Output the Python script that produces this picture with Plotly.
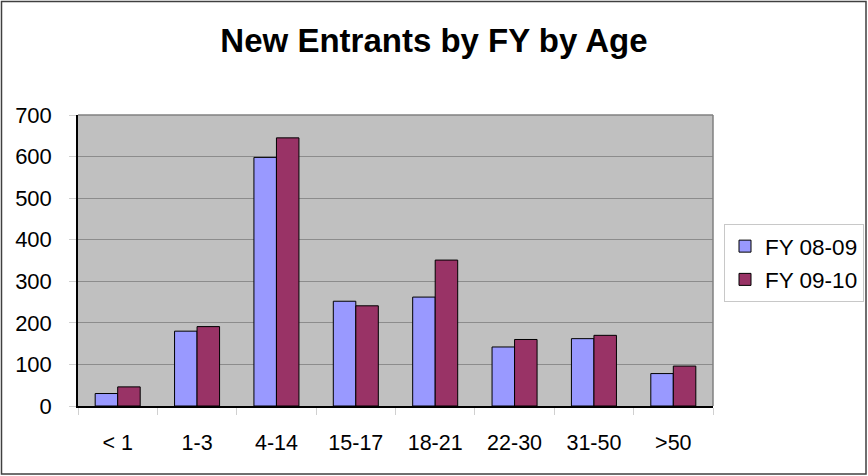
import plotly.graph_objects as go

categories = ["< 1", "1-3", "4-14", "15-17", "18-21", "22-30", "31-50", ">50"]
fy0809 = [30, 180, 598, 252, 262, 142, 162, 78]
fy0910 = [46, 191, 645, 241, 351, 160, 170, 96]
series_names = ["FY 08-09", "FY 09-10"]
y_ticks = [0, 100, 200, 300, 400, 500, 600, 700]

FONT = "Liberation Sans, Arial, sans-serif"
W, H = 868, 476
L, R, T, B = 78, 155, 115, 70
pw, ph = W - L - R, H - T - B

def px_x(p):
    return (p - L) / pw

def px_y(p):
    return (H - B - p) / ph

fig = go.Figure()
fig.add_trace(go.Bar(x=categories, y=fy0809, name=series_names[0],
                     marker=dict(color="#9999FF", line=dict(color="#000000", width=1)),
                     legendgroup="a"))
fig.add_trace(go.Bar(x=categories, y=fy0910, name=series_names[1],
                     marker=dict(color="#993366", line=dict(color="#000000", width=1)),
                     legendgroup="b"))

shapes = [
    # outer border
    dict(type="rect", xref="paper", yref="paper", x0=px_x(1.5), x1=px_x(866), y0=px_y(474), y1=px_y(1.5),
         line=dict(color="#404040", width=1.5), layer="below"),
    # plot area top/right border (gray)
    dict(type="line", xref="paper", yref="paper", x0=0, x1=1, y0=1, y1=1,
         line=dict(color="#808080", width=1.5), layer="above"),
    dict(type="line", xref="paper", yref="paper", x0=1, x1=1, y0=0, y1=1,
         line=dict(color="#808080", width=1.5), layer="above"),
]

fig.update_layout(
    width=W, height=H,
    margin=dict(l=L, r=R, t=T, b=B, pad=0, autoexpand=False),
    paper_bgcolor="#FFFFFF",
    plot_bgcolor="#C0C0C0",
    font=dict(family=FONT, size=22, color="#000000"),
    title=dict(text="<b>New Entrants by FY by Age</b>", x=0.5, xref="container", xanchor="center",
               y=1 - 40 / H, yref="container", yanchor="middle",
               font=dict(family=FONT, size=33, color="#000000")),
    barmode="group",
    bargap=0.433,
    bargroupgap=0,
    showlegend=True,
    legend=dict(x=724 / W, xref="container", xanchor="left",
                y=1 - 224 / H, yref="container", yanchor="top",
                bgcolor="#FFFFFF", bordercolor="#C8C8C8", borderwidth=1,
                font=dict(family=FONT, size=22.5, color="#000000"),
                traceorder="grouped", tracegroupgap=1, itemwidth=30),
    shapes=shapes,
    xaxis=dict(type="category", showline=True, linecolor="#000000", linewidth=1.5,
               ticks="outside", tickson="boundaries", ticklen=7, tickcolor="#D0D0D0",
               ticklabelstandoff=16,
               showgrid=False, tickfont=dict(family=FONT, size=21.5), fixedrange=True),
    yaxis=dict(range=[0, 700], tickvals=y_ticks, showline=True, linecolor="#000000", linewidth=1.5,
               ticks="outside", ticklen=7, tickcolor="#D0D0D0", ticklabelstandoff=13,
               showgrid=True, gridcolor="#8C8C8C", gridwidth=1, zeroline=False,
               tickfont=dict(family=FONT, size=22), fixedrange=True),
)

fig.write_html("out.html", config={"displayModeBar": False},
               post_script="document.body.style.margin='0px';document.body.style.overflow='hidden';")
